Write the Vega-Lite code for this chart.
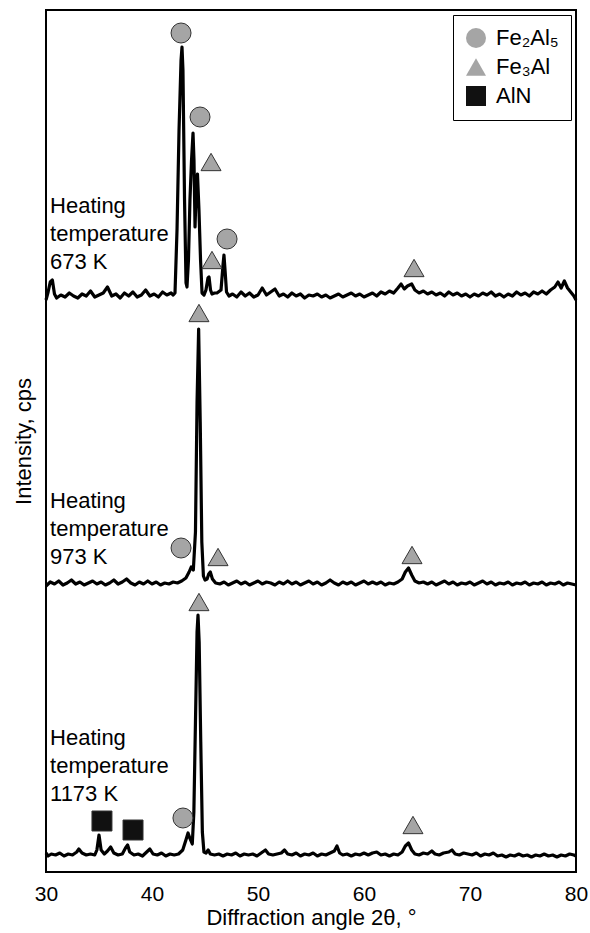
{
  "$schema": "https://vega.github.io/schema/vega-lite/v6.json",
  "width": 530,
  "height": 862,
  "autosize": {"type": "none"},
  "padding": {"left": 46, "top": 10, "right": 14, "bottom": 61},
  "config": {
    "font": "Liberation Sans",
    "view": {"stroke": "black", "strokeWidth": 2},
    "legend": {
      "orient": "top-right",
      "offset": 5,
      "padding": 12,
      "strokeColor": "black",
      "strokeWidth": 1,
      "fillColor": "white",
      "labelFontSize": 22,
      "labelColor": "black",
      "labelFont": "Liberation Sans",
      "symbolSize": 400,
      "symbolStrokeColor": "#333333",
      "symbolStrokeWidth": 1,
      "symbolOpacity": 1,
      "rowPadding": 6,
      "labelOffset": 9
    }
  },
  "datasets": {
    "traces": [
      {"sample": "673 K", "angle": 30.0, "cps": 572}, {"sample": "673 K", "angle": 30.2, "cps": 580}, {"sample": "673 K", "angle": 30.4, "cps": 590}, {"sample": "673 K", "angle": 30.6, "cps": 592}, {"sample": "673 K", "angle": 30.8, "cps": 578}, {"sample": "673 K", "angle": 31.0, "cps": 574}, {"sample": "673 K", "angle": 31.4, "cps": 577}, {"sample": "673 K", "angle": 31.8, "cps": 575}, {"sample": "673 K", "angle": 32.2, "cps": 579}, {"sample": "673 K", "angle": 32.6, "cps": 576}, {"sample": "673 K", "angle": 33.0, "cps": 574}, {"sample": "673 K", "angle": 33.4, "cps": 578}, {"sample": "673 K", "angle": 33.8, "cps": 576}, {"sample": "673 K", "angle": 34.2, "cps": 581}, {"sample": "673 K", "angle": 34.6, "cps": 575}, {"sample": "673 K", "angle": 35.0, "cps": 577}, {"sample": "673 K", "angle": 35.4, "cps": 579}, {"sample": "673 K", "angle": 35.8, "cps": 585}, {"sample": "673 K", "angle": 36.2, "cps": 576}, {"sample": "673 K", "angle": 36.6, "cps": 578}, {"sample": "673 K", "angle": 37.0, "cps": 574}, {"sample": "673 K", "angle": 37.4, "cps": 579}, {"sample": "673 K", "angle": 37.8, "cps": 576}, {"sample": "673 K", "angle": 38.2, "cps": 580}, {"sample": "673 K", "angle": 38.6, "cps": 575}, {"sample": "673 K", "angle": 39.0, "cps": 577}, {"sample": "673 K", "angle": 39.4, "cps": 582}, {"sample": "673 K", "angle": 39.8, "cps": 576}, {"sample": "673 K", "angle": 40.2, "cps": 578}, {"sample": "673 K", "angle": 40.6, "cps": 575}, {"sample": "673 K", "angle": 41.0, "cps": 580}, {"sample": "673 K", "angle": 41.4, "cps": 577}, {"sample": "673 K", "angle": 41.8, "cps": 579}, {"sample": "673 K", "angle": 42.0, "cps": 577},
      {"sample": "673 K", "angle": 42.17, "cps": 579}, {"sample": "673 K", "angle": 42.36, "cps": 642}, {"sample": "673 K", "angle": 42.55, "cps": 742}, {"sample": "673 K", "angle": 42.74, "cps": 812}, {"sample": "673 K", "angle": 42.83, "cps": 825}, {"sample": "673 K", "angle": 42.92, "cps": 802}, {"sample": "673 K", "angle": 43.07, "cps": 672}, {"sample": "673 K", "angle": 43.21, "cps": 589}, {"sample": "673 K", "angle": 43.3, "cps": 585}, {"sample": "673 K", "angle": 43.44, "cps": 612}, {"sample": "673 K", "angle": 43.58, "cps": 672}, {"sample": "673 K", "angle": 43.73, "cps": 712}, {"sample": "673 K", "angle": 43.87, "cps": 739}, {"sample": "673 K", "angle": 43.96, "cps": 712}, {"sample": "673 K", "angle": 44.06, "cps": 645}, {"sample": "673 K", "angle": 44.15, "cps": 677}, {"sample": "673 K", "angle": 44.29, "cps": 698}, {"sample": "673 K", "angle": 44.43, "cps": 662}, {"sample": "673 K", "angle": 44.58, "cps": 612}, {"sample": "673 K", "angle": 44.72, "cps": 579}, {"sample": "673 K", "angle": 44.91, "cps": 577}, {"sample": "673 K", "angle": 45.09, "cps": 582}, {"sample": "673 K", "angle": 45.28, "cps": 594}, {"sample": "673 K", "angle": 45.38, "cps": 595}, {"sample": "673 K", "angle": 45.52, "cps": 582}, {"sample": "673 K", "angle": 45.66, "cps": 578}, {"sample": "673 K", "angle": 45.9, "cps": 579}, {"sample": "673 K", "angle": 46.13, "cps": 579}, {"sample": "673 K", "angle": 46.51, "cps": 582}, {"sample": "673 K", "angle": 46.7, "cps": 607}, {"sample": "673 K", "angle": 46.79, "cps": 617}, {"sample": "673 K", "angle": 46.89, "cps": 602}, {"sample": "673 K", "angle": 47.03, "cps": 580}, {"sample": "673 K", "angle": 47.26, "cps": 576},
      {"sample": "673 K", "angle": 47.6, "cps": 578}, {"sample": "673 K", "angle": 48.0, "cps": 575}, {"sample": "673 K", "angle": 48.4, "cps": 580}, {"sample": "673 K", "angle": 48.8, "cps": 576}, {"sample": "673 K", "angle": 49.2, "cps": 579}, {"sample": "673 K", "angle": 49.6, "cps": 575}, {"sample": "673 K", "angle": 50.0, "cps": 577}, {"sample": "673 K", "angle": 50.4, "cps": 584}, {"sample": "673 K", "angle": 50.8, "cps": 577}, {"sample": "673 K", "angle": 51.2, "cps": 580}, {"sample": "673 K", "angle": 51.6, "cps": 583}, {"sample": "673 K", "angle": 52.0, "cps": 576}, {"sample": "673 K", "angle": 52.4, "cps": 578}, {"sample": "673 K", "angle": 52.8, "cps": 575}, {"sample": "673 K", "angle": 53.2, "cps": 579}, {"sample": "673 K", "angle": 53.6, "cps": 576}, {"sample": "673 K", "angle": 54.0, "cps": 578}, {"sample": "673 K", "angle": 54.4, "cps": 574}, {"sample": "673 K", "angle": 54.8, "cps": 577}, {"sample": "673 K", "angle": 55.2, "cps": 576}, {"sample": "673 K", "angle": 55.6, "cps": 578}, {"sample": "673 K", "angle": 56.0, "cps": 575}, {"sample": "673 K", "angle": 56.4, "cps": 577}, {"sample": "673 K", "angle": 56.8, "cps": 574}, {"sample": "673 K", "angle": 57.2, "cps": 576}, {"sample": "673 K", "angle": 57.6, "cps": 578}, {"sample": "673 K", "angle": 58.0, "cps": 575}, {"sample": "673 K", "angle": 58.4, "cps": 577}, {"sample": "673 K", "angle": 58.8, "cps": 579}, {"sample": "673 K", "angle": 59.2, "cps": 576}, {"sample": "673 K", "angle": 59.6, "cps": 578}, {"sample": "673 K", "angle": 60.0, "cps": 575}, {"sample": "673 K", "angle": 60.4, "cps": 577}, {"sample": "673 K", "angle": 60.8, "cps": 579}, {"sample": "673 K", "angle": 61.2, "cps": 576}, {"sample": "673 K", "angle": 61.6, "cps": 580}, {"sample": "673 K", "angle": 62.0, "cps": 578}, {"sample": "673 K", "angle": 62.4, "cps": 581}, {"sample": "673 K", "angle": 62.8, "cps": 579}, {"sample": "673 K", "angle": 63.2, "cps": 584}, {"sample": "673 K", "angle": 63.5, "cps": 588}, {"sample": "673 K", "angle": 63.8, "cps": 583}, {"sample": "673 K", "angle": 64.1, "cps": 586}, {"sample": "673 K", "angle": 64.5, "cps": 588}, {"sample": "673 K", "angle": 64.8, "cps": 582}, {"sample": "673 K", "angle": 65.2, "cps": 579}, {"sample": "673 K", "angle": 65.6, "cps": 581}, {"sample": "673 K", "angle": 66.0, "cps": 578}, {"sample": "673 K", "angle": 66.4, "cps": 580}, {"sample": "673 K", "angle": 66.8, "cps": 577}, {"sample": "673 K", "angle": 67.2, "cps": 579}, {"sample": "673 K", "angle": 67.6, "cps": 576}, {"sample": "673 K", "angle": 68.0, "cps": 580}, {"sample": "673 K", "angle": 68.4, "cps": 577}, {"sample": "673 K", "angle": 68.8, "cps": 579}, {"sample": "673 K", "angle": 69.2, "cps": 576}, {"sample": "673 K", "angle": 69.6, "cps": 578}, {"sample": "673 K", "angle": 70.0, "cps": 575}, {"sample": "673 K", "angle": 70.4, "cps": 578}, {"sample": "673 K", "angle": 70.8, "cps": 576}, {"sample": "673 K", "angle": 71.2, "cps": 579}, {"sample": "673 K", "angle": 71.6, "cps": 577}, {"sample": "673 K", "angle": 72.0, "cps": 580}, {"sample": "673 K", "angle": 72.4, "cps": 576}, {"sample": "673 K", "angle": 72.8, "cps": 578}, {"sample": "673 K", "angle": 73.2, "cps": 575}, {"sample": "673 K", "angle": 73.6, "cps": 578}, {"sample": "673 K", "angle": 74.0, "cps": 576}, {"sample": "673 K", "angle": 74.4, "cps": 580}, {"sample": "673 K", "angle": 74.8, "cps": 577}, {"sample": "673 K", "angle": 75.2, "cps": 579}, {"sample": "673 K", "angle": 75.6, "cps": 576}, {"sample": "673 K", "angle": 76.0, "cps": 580}, {"sample": "673 K", "angle": 76.4, "cps": 578}, {"sample": "673 K", "angle": 76.8, "cps": 581}, {"sample": "673 K", "angle": 77.2, "cps": 578}, {"sample": "673 K", "angle": 77.6, "cps": 582}, {"sample": "673 K", "angle": 78.0, "cps": 585}, {"sample": "673 K", "angle": 78.3, "cps": 590}, {"sample": "673 K", "angle": 78.6, "cps": 584}, {"sample": "673 K", "angle": 78.9, "cps": 591}, {"sample": "673 K", "angle": 79.2, "cps": 584}, {"sample": "673 K", "angle": 79.5, "cps": 580}, {"sample": "673 K", "angle": 79.8, "cps": 576}, {"sample": "673 K", "angle": 80.0, "cps": 572},

      {"sample": "973 K", "angle": 30.0, "cps": 286}, {"sample": "973 K", "angle": 30.4, "cps": 290}, {"sample": "973 K", "angle": 30.8, "cps": 288}, {"sample": "973 K", "angle": 31.2, "cps": 291}, {"sample": "973 K", "angle": 31.6, "cps": 287}, {"sample": "973 K", "angle": 32.0, "cps": 289}, {"sample": "973 K", "angle": 32.4, "cps": 292}, {"sample": "973 K", "angle": 32.8, "cps": 288}, {"sample": "973 K", "angle": 33.2, "cps": 290}, {"sample": "973 K", "angle": 33.6, "cps": 287}, {"sample": "973 K", "angle": 34.0, "cps": 289}, {"sample": "973 K", "angle": 34.4, "cps": 291}, {"sample": "973 K", "angle": 34.8, "cps": 288}, {"sample": "973 K", "angle": 35.2, "cps": 290}, {"sample": "973 K", "angle": 35.6, "cps": 287}, {"sample": "973 K", "angle": 36.0, "cps": 289}, {"sample": "973 K", "angle": 36.4, "cps": 292}, {"sample": "973 K", "angle": 36.8, "cps": 288}, {"sample": "973 K", "angle": 37.2, "cps": 290}, {"sample": "973 K", "angle": 37.6, "cps": 293}, {"sample": "973 K", "angle": 38.0, "cps": 289}, {"sample": "973 K", "angle": 38.4, "cps": 287}, {"sample": "973 K", "angle": 38.8, "cps": 290}, {"sample": "973 K", "angle": 39.2, "cps": 288}, {"sample": "973 K", "angle": 39.6, "cps": 291}, {"sample": "973 K", "angle": 40.0, "cps": 288}, {"sample": "973 K", "angle": 40.4, "cps": 290}, {"sample": "973 K", "angle": 40.8, "cps": 287}, {"sample": "973 K", "angle": 41.2, "cps": 289}, {"sample": "973 K", "angle": 41.6, "cps": 288}, {"sample": "973 K", "angle": 42.0, "cps": 290}, {"sample": "973 K", "angle": 42.4, "cps": 289}, {"sample": "973 K", "angle": 42.8, "cps": 291}, {"sample": "973 K", "angle": 43.2, "cps": 294}, {"sample": "973 K", "angle": 43.5, "cps": 300}, {"sample": "973 K", "angle": 43.7, "cps": 305}, {"sample": "973 K", "angle": 43.9, "cps": 302}, {"sample": "973 K", "angle": 44.1, "cps": 340}, {"sample": "973 K", "angle": 44.25, "cps": 470}, {"sample": "973 K", "angle": 44.4, "cps": 543}, {"sample": "973 K", "angle": 44.55, "cps": 450}, {"sample": "973 K", "angle": 44.7, "cps": 330}, {"sample": "973 K", "angle": 44.85, "cps": 296}, {"sample": "973 K", "angle": 45.0, "cps": 292}, {"sample": "973 K", "angle": 45.2, "cps": 293}, {"sample": "973 K", "angle": 45.35, "cps": 298}, {"sample": "973 K", "angle": 45.5, "cps": 300}, {"sample": "973 K", "angle": 45.7, "cps": 293}, {"sample": "973 K", "angle": 46.0, "cps": 289}, {"sample": "973 K", "angle": 46.4, "cps": 288}, {"sample": "973 K", "angle": 46.8, "cps": 290}, {"sample": "973 K", "angle": 47.2, "cps": 287}, {"sample": "973 K", "angle": 47.6, "cps": 289}, {"sample": "973 K", "angle": 48.0, "cps": 291}, {"sample": "973 K", "angle": 48.4, "cps": 288}, {"sample": "973 K", "angle": 48.8, "cps": 290}, {"sample": "973 K", "angle": 49.2, "cps": 287}, {"sample": "973 K", "angle": 49.6, "cps": 289}, {"sample": "973 K", "angle": 50.0, "cps": 291}, {"sample": "973 K", "angle": 50.4, "cps": 288}, {"sample": "973 K", "angle": 50.8, "cps": 290}, {"sample": "973 K", "angle": 51.2, "cps": 289}, {"sample": "973 K", "angle": 51.6, "cps": 287}, {"sample": "973 K", "angle": 52.0, "cps": 290}, {"sample": "973 K", "angle": 52.4, "cps": 288}, {"sample": "973 K", "angle": 52.8, "cps": 291}, {"sample": "973 K", "angle": 53.2, "cps": 288}, {"sample": "973 K", "angle": 53.6, "cps": 290}, {"sample": "973 K", "angle": 54.0, "cps": 287}, {"sample": "973 K", "angle": 54.4, "cps": 289}, {"sample": "973 K", "angle": 54.8, "cps": 291}, {"sample": "973 K", "angle": 55.2, "cps": 288}, {"sample": "973 K", "angle": 55.6, "cps": 290}, {"sample": "973 K", "angle": 56.0, "cps": 287}, {"sample": "973 K", "angle": 56.4, "cps": 289}, {"sample": "973 K", "angle": 56.8, "cps": 292}, {"sample": "973 K", "angle": 57.2, "cps": 289}, {"sample": "973 K", "angle": 57.6, "cps": 287}, {"sample": "973 K", "angle": 58.0, "cps": 290}, {"sample": "973 K", "angle": 58.4, "cps": 288}, {"sample": "973 K", "angle": 58.8, "cps": 290}, {"sample": "973 K", "angle": 59.2, "cps": 287}, {"sample": "973 K", "angle": 59.6, "cps": 289}, {"sample": "973 K", "angle": 60.0, "cps": 291}, {"sample": "973 K", "angle": 60.4, "cps": 288}, {"sample": "973 K", "angle": 60.8, "cps": 290}, {"sample": "973 K", "angle": 61.2, "cps": 288}, {"sample": "973 K", "angle": 61.6, "cps": 290}, {"sample": "973 K", "angle": 62.0, "cps": 287}, {"sample": "973 K", "angle": 62.4, "cps": 289}, {"sample": "973 K", "angle": 62.8, "cps": 288}, {"sample": "973 K", "angle": 63.2, "cps": 290}, {"sample": "973 K", "angle": 63.6, "cps": 293}, {"sample": "973 K", "angle": 63.9, "cps": 300}, {"sample": "973 K", "angle": 64.2, "cps": 304}, {"sample": "973 K", "angle": 64.5, "cps": 297}, {"sample": "973 K", "angle": 64.8, "cps": 291}, {"sample": "973 K", "angle": 65.2, "cps": 289}, {"sample": "973 K", "angle": 65.6, "cps": 290}, {"sample": "973 K", "angle": 66.0, "cps": 288}, {"sample": "973 K", "angle": 66.4, "cps": 290}, {"sample": "973 K", "angle": 66.8, "cps": 287}, {"sample": "973 K", "angle": 67.2, "cps": 289}, {"sample": "973 K", "angle": 67.6, "cps": 291}, {"sample": "973 K", "angle": 68.0, "cps": 288}, {"sample": "973 K", "angle": 68.4, "cps": 290}, {"sample": "973 K", "angle": 68.8, "cps": 287}, {"sample": "973 K", "angle": 69.2, "cps": 289}, {"sample": "973 K", "angle": 69.6, "cps": 288}, {"sample": "973 K", "angle": 70.0, "cps": 290}, {"sample": "973 K", "angle": 70.4, "cps": 287}, {"sample": "973 K", "angle": 70.8, "cps": 289}, {"sample": "973 K", "angle": 71.2, "cps": 291}, {"sample": "973 K", "angle": 71.6, "cps": 288}, {"sample": "973 K", "angle": 72.0, "cps": 290}, {"sample": "973 K", "angle": 72.4, "cps": 287}, {"sample": "973 K", "angle": 72.8, "cps": 289}, {"sample": "973 K", "angle": 73.2, "cps": 288}, {"sample": "973 K", "angle": 73.6, "cps": 290}, {"sample": "973 K", "angle": 74.0, "cps": 287}, {"sample": "973 K", "angle": 74.4, "cps": 289}, {"sample": "973 K", "angle": 74.8, "cps": 288}, {"sample": "973 K", "angle": 75.2, "cps": 290}, {"sample": "973 K", "angle": 75.6, "cps": 287}, {"sample": "973 K", "angle": 76.0, "cps": 289}, {"sample": "973 K", "angle": 76.4, "cps": 288}, {"sample": "973 K", "angle": 76.8, "cps": 290}, {"sample": "973 K", "angle": 77.2, "cps": 287}, {"sample": "973 K", "angle": 77.6, "cps": 289}, {"sample": "973 K", "angle": 78.0, "cps": 288}, {"sample": "973 K", "angle": 78.4, "cps": 290}, {"sample": "973 K", "angle": 78.8, "cps": 287}, {"sample": "973 K", "angle": 79.2, "cps": 289}, {"sample": "973 K", "angle": 79.6, "cps": 288}, {"sample": "973 K", "angle": 80.0, "cps": 287},

      {"sample": "1173 K", "angle": 30.0, "cps": 19}, {"sample": "1173 K", "angle": 30.2, "cps": 16}, {"sample": "1173 K", "angle": 30.5, "cps": 18}, {"sample": "1173 K", "angle": 30.9, "cps": 17}, {"sample": "1173 K", "angle": 31.3, "cps": 19}, {"sample": "1173 K", "angle": 31.7, "cps": 16}, {"sample": "1173 K", "angle": 32.1, "cps": 18}, {"sample": "1173 K", "angle": 32.5, "cps": 17}, {"sample": "1173 K", "angle": 32.9, "cps": 20}, {"sample": "1173 K", "angle": 33.1, "cps": 23}, {"sample": "1173 K", "angle": 33.4, "cps": 19}, {"sample": "1173 K", "angle": 33.8, "cps": 17}, {"sample": "1173 K", "angle": 34.2, "cps": 18}, {"sample": "1173 K", "angle": 34.6, "cps": 17}, {"sample": "1173 K", "angle": 34.8, "cps": 22}, {"sample": "1173 K", "angle": 35.0, "cps": 37}, {"sample": "1173 K", "angle": 35.2, "cps": 22}, {"sample": "1173 K", "angle": 35.5, "cps": 18}, {"sample": "1173 K", "angle": 35.8, "cps": 21}, {"sample": "1173 K", "angle": 36.1, "cps": 25}, {"sample": "1173 K", "angle": 36.4, "cps": 19}, {"sample": "1173 K", "angle": 36.8, "cps": 17}, {"sample": "1173 K", "angle": 37.2, "cps": 18}, {"sample": "1173 K", "angle": 37.5, "cps": 24}, {"sample": "1173 K", "angle": 37.7, "cps": 27}, {"sample": "1173 K", "angle": 37.9, "cps": 20}, {"sample": "1173 K", "angle": 38.3, "cps": 17}, {"sample": "1173 K", "angle": 38.7, "cps": 18}, {"sample": "1173 K", "angle": 39.1, "cps": 16}, {"sample": "1173 K", "angle": 39.5, "cps": 20}, {"sample": "1173 K", "angle": 39.8, "cps": 23}, {"sample": "1173 K", "angle": 40.1, "cps": 18}, {"sample": "1173 K", "angle": 40.5, "cps": 17}, {"sample": "1173 K", "angle": 40.9, "cps": 19}, {"sample": "1173 K", "angle": 41.3, "cps": 16}, {"sample": "1173 K", "angle": 41.7, "cps": 18}, {"sample": "1173 K", "angle": 42.1, "cps": 17}, {"sample": "1173 K", "angle": 42.5, "cps": 18}, {"sample": "1173 K", "angle": 42.9, "cps": 22}, {"sample": "1173 K", "angle": 43.2, "cps": 32}, {"sample": "1173 K", "angle": 43.4, "cps": 39}, {"sample": "1173 K", "angle": 43.6, "cps": 33}, {"sample": "1173 K", "angle": 43.8, "cps": 28}, {"sample": "1173 K", "angle": 43.95, "cps": 60}, {"sample": "1173 K", "angle": 44.1, "cps": 150}, {"sample": "1173 K", "angle": 44.25, "cps": 240}, {"sample": "1173 K", "angle": 44.34, "cps": 257}, {"sample": "1173 K", "angle": 44.45, "cps": 230}, {"sample": "1173 K", "angle": 44.6, "cps": 130}, {"sample": "1173 K", "angle": 44.75, "cps": 40}, {"sample": "1173 K", "angle": 44.9, "cps": 20}, {"sample": "1173 K", "angle": 45.1, "cps": 19}, {"sample": "1173 K", "angle": 45.3, "cps": 22}, {"sample": "1173 K", "angle": 45.5, "cps": 18}, {"sample": "1173 K", "angle": 45.9, "cps": 17}, {"sample": "1173 K", "angle": 46.3, "cps": 18}, {"sample": "1173 K", "angle": 46.7, "cps": 16}, {"sample": "1173 K", "angle": 47.1, "cps": 18}, {"sample": "1173 K", "angle": 47.5, "cps": 17}, {"sample": "1173 K", "angle": 47.9, "cps": 19}, {"sample": "1173 K", "angle": 48.3, "cps": 16}, {"sample": "1173 K", "angle": 48.7, "cps": 18}, {"sample": "1173 K", "angle": 49.1, "cps": 17}, {"sample": "1173 K", "angle": 49.5, "cps": 18}, {"sample": "1173 K", "angle": 49.9, "cps": 16}, {"sample": "1173 K", "angle": 50.3, "cps": 19}, {"sample": "1173 K", "angle": 50.7, "cps": 22}, {"sample": "1173 K", "angle": 51.0, "cps": 18}, {"sample": "1173 K", "angle": 51.4, "cps": 17}, {"sample": "1173 K", "angle": 51.8, "cps": 18}, {"sample": "1173 K", "angle": 52.2, "cps": 19}, {"sample": "1173 K", "angle": 52.5, "cps": 22}, {"sample": "1173 K", "angle": 52.8, "cps": 18}, {"sample": "1173 K", "angle": 53.2, "cps": 17}, {"sample": "1173 K", "angle": 53.6, "cps": 19}, {"sample": "1173 K", "angle": 54.0, "cps": 16}, {"sample": "1173 K", "angle": 54.4, "cps": 18}, {"sample": "1173 K", "angle": 54.8, "cps": 17}, {"sample": "1173 K", "angle": 55.2, "cps": 19}, {"sample": "1173 K", "angle": 55.6, "cps": 16}, {"sample": "1173 K", "angle": 56.0, "cps": 18}, {"sample": "1173 K", "angle": 56.4, "cps": 17}, {"sample": "1173 K", "angle": 56.8, "cps": 19}, {"sample": "1173 K", "angle": 57.2, "cps": 21}, {"sample": "1173 K", "angle": 57.45, "cps": 26}, {"sample": "1173 K", "angle": 57.7, "cps": 19}, {"sample": "1173 K", "angle": 58.0, "cps": 17}, {"sample": "1173 K", "angle": 58.4, "cps": 18}, {"sample": "1173 K", "angle": 58.8, "cps": 16}, {"sample": "1173 K", "angle": 59.2, "cps": 18}, {"sample": "1173 K", "angle": 59.6, "cps": 17}, {"sample": "1173 K", "angle": 60.0, "cps": 19}, {"sample": "1173 K", "angle": 60.4, "cps": 17}, {"sample": "1173 K", "angle": 60.8, "cps": 19}, {"sample": "1173 K", "angle": 61.2, "cps": 20}, {"sample": "1173 K", "angle": 61.6, "cps": 17}, {"sample": "1173 K", "angle": 62.0, "cps": 18}, {"sample": "1173 K", "angle": 62.4, "cps": 16}, {"sample": "1173 K", "angle": 62.8, "cps": 18}, {"sample": "1173 K", "angle": 63.2, "cps": 17}, {"sample": "1173 K", "angle": 63.6, "cps": 20}, {"sample": "1173 K", "angle": 63.9, "cps": 26}, {"sample": "1173 K", "angle": 64.2, "cps": 29}, {"sample": "1173 K", "angle": 64.5, "cps": 22}, {"sample": "1173 K", "angle": 64.8, "cps": 18}, {"sample": "1173 K", "angle": 65.2, "cps": 17}, {"sample": "1173 K", "angle": 65.6, "cps": 19}, {"sample": "1173 K", "angle": 66.0, "cps": 18}, {"sample": "1173 K", "angle": 66.4, "cps": 21}, {"sample": "1173 K", "angle": 66.7, "cps": 18}, {"sample": "1173 K", "angle": 67.1, "cps": 17}, {"sample": "1173 K", "angle": 67.5, "cps": 19}, {"sample": "1173 K", "angle": 68.0, "cps": 20}, {"sample": "1173 K", "angle": 68.3, "cps": 22}, {"sample": "1173 K", "angle": 68.6, "cps": 18}, {"sample": "1173 K", "angle": 69.0, "cps": 17}, {"sample": "1173 K", "angle": 69.4, "cps": 19}, {"sample": "1173 K", "angle": 69.8, "cps": 18}, {"sample": "1173 K", "angle": 70.2, "cps": 17}, {"sample": "1173 K", "angle": 70.6, "cps": 19}, {"sample": "1173 K", "angle": 71.0, "cps": 16}, {"sample": "1173 K", "angle": 71.4, "cps": 18}, {"sample": "1173 K", "angle": 71.8, "cps": 17}, {"sample": "1173 K", "angle": 72.2, "cps": 19}, {"sample": "1173 K", "angle": 72.6, "cps": 16}, {"sample": "1173 K", "angle": 73.0, "cps": 17}, {"sample": "1173 K", "angle": 73.4, "cps": 15}, {"sample": "1173 K", "angle": 73.8, "cps": 17}, {"sample": "1173 K", "angle": 74.2, "cps": 16}, {"sample": "1173 K", "angle": 74.6, "cps": 18}, {"sample": "1173 K", "angle": 75.0, "cps": 16}, {"sample": "1173 K", "angle": 75.4, "cps": 17}, {"sample": "1173 K", "angle": 75.8, "cps": 15}, {"sample": "1173 K", "angle": 76.2, "cps": 17}, {"sample": "1173 K", "angle": 76.6, "cps": 16}, {"sample": "1173 K", "angle": 77.0, "cps": 18}, {"sample": "1173 K", "angle": 77.4, "cps": 16}, {"sample": "1173 K", "angle": 77.8, "cps": 17}, {"sample": "1173 K", "angle": 78.2, "cps": 15}, {"sample": "1173 K", "angle": 78.6, "cps": 17}, {"sample": "1173 K", "angle": 79.0, "cps": 16}, {"sample": "1173 K", "angle": 79.4, "cps": 18}, {"sample": "1173 K", "angle": 79.8, "cps": 17}, {"sample": "1173 K", "angle": 80.0, "cps": 16}
    ],
    "markers": [
      {"phase": "Fe₂Al₅", "angle": 42.74, "cps": 839},
      {"phase": "Fe₂Al₅", "angle": 44.53, "cps": 755},
      {"phase": "Fe₃Al", "angle": 45.57, "cps": 710},
      {"phase": "Fe₃Al", "angle": 45.66, "cps": 612},
      {"phase": "Fe₂Al₅", "angle": 47.08, "cps": 633},
      {"phase": "Fe₃Al", "angle": 64.72, "cps": 604},
      {"phase": "Fe₃Al", "angle": 44.43, "cps": 559},
      {"phase": "Fe₂Al₅", "angle": 42.74, "cps": 324},
      {"phase": "Fe₃Al", "angle": 46.23, "cps": 315},
      {"phase": "Fe₃Al", "angle": 64.53, "cps": 317},
      {"phase": "Fe₃Al", "angle": 44.43, "cps": 270},
      {"phase": "AlN", "angle": 35.28, "cps": 51},
      {"phase": "AlN", "angle": 38.21, "cps": 42},
      {"phase": "Fe₂Al₅", "angle": 42.92, "cps": 54},
      {"phase": "Fe₃Al", "angle": 64.62, "cps": 47}
    ],
    "labels": [
      {"angle": 30.38, "cps": 659, "label": "Heating\ntemperature\n673 K"},
      {"angle": 30.38, "cps": 364, "label": "Heating\ntemperature\n973 K"},
      {"angle": 30.38, "cps": 127, "label": "Heating\ntemperature\n1173 K"}
    ],
    "ticks": [
      {"angle": 40}, {"angle": 50}, {"angle": 60}, {"angle": 70}
    ]
  },
  "encoding": {
    "x": {
      "field": "angle",
      "type": "quantitative",
      "scale": {"domain": [30, 80], "nice": false, "zero": false},
      "axis": {
        "title": "Diffraction angle 2θ, °",
        "values": [30, 40, 50, 60, 70, 80],
        "domain": false,
        "grid": false,
        "ticks": false,
        "labelFontSize": 21,
        "labelColor": "black",
        "labelPadding": 11,
        "labelFlush": false,
        "titleFontSize": 22,
        "titleFontWeight": "normal",
        "titleColor": "black",
        "titlePadding": 3
      }
    },
    "y": {
      "field": "cps",
      "type": "quantitative",
      "scale": {"domain": [0, 862], "nice": false},
      "axis": {
        "title": "Intensity, cps",
        "ticks": false,
        "labels": false,
        "domain": false,
        "grid": false,
        "titleFontSize": 22,
        "titleFontWeight": "normal",
        "titleColor": "black",
        "titlePadding": 11
      }
    }
  },
  "layer": [
    {
      "data": {"name": "ticks"},
      "mark": {"type": "rule", "color": "black", "strokeWidth": 1.5},
      "encoding": {
        "y": {"datum": 0, "type": "quantitative"},
        "y2": {"datum": 11}
      }
    },
    {
      "data": {"name": "traces"},
      "mark": {"type": "line", "color": "black", "strokeWidth": 3.2, "strokeJoin": "round"},
      "encoding": {"detail": {"field": "sample", "type": "nominal"}}
    },
    {
      "data": {"name": "markers"},
      "mark": {"type": "point", "filled": true, "size": 400, "opacity": 1, "strokeWidth": 1},
      "encoding": {
        "shape": {
          "field": "phase",
          "type": "nominal",
          "scale": {"domain": ["Fe₂Al₅", "Fe₃Al", "AlN"], "range": ["circle", "triangle-up", "square"]},
          "legend": {"title": null}
        },
        "color": {
          "field": "phase",
          "type": "nominal",
          "scale": {"domain": ["Fe₂Al₅", "Fe₃Al", "AlN"], "range": ["#a5a5a5", "#a5a5a5", "#111111"]},
          "legend": {"title": null}
        },
        "stroke": {"value": "#333333"}
      }
    },
    {
      "data": {"name": "labels"},
      "mark": {"type": "text", "align": "left", "baseline": "alphabetic", "fontSize": 22, "lineBreak": "\n", "lineHeight": 28, "color": "black"},
      "encoding": {"text": {"field": "label", "type": "nominal"}}
    }
  ]
}
